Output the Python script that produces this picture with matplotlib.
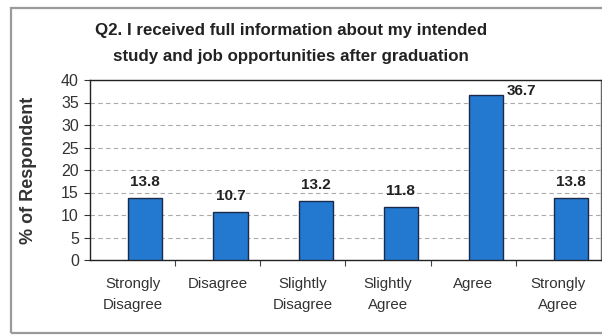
import matplotlib
matplotlib.use("Agg")
import matplotlib.pyplot as plt
from matplotlib.patches import Rectangle

categories = ["Strongly\nDisagree", "Disagree", "Slightly\nDisagree",
              "Slightly\nAgree", "Agree", "Strongly\nAgree"]
values = [13.8, 10.7, 13.2, 11.8, 36.7, 13.8]
yticks = [0, 5, 10, 15, 20, 25, 30, 35, 40]

plt.rcParams["font.family"] = ["Liberation Sans", "DejaVu Sans"]

fig = plt.figure(figsize=(6.02, 3.35), dpi=100)
ax = fig.add_axes([90 / 602, 1 - 260 / 335, 511 / 602, 180 / 335])

# outer chart frame
fig.patches.append(Rectangle((10.5 / 602, 2 / 335), 0.99, 1 - 10 / 335,
                             transform=fig.transFigure, fill=False,
                             edgecolor="#9a9a9a", linewidth=1.6))

# bars sit a little right of their category centre
bar_shift = 0.15
x = list(range(len(categories)))
bx = [i + bar_shift for i in x]
ax.bar(bx, values, width=0.40, color="#2379d0", edgecolor="#1b2a4a",
       linewidth=1.0, zorder=3)

for xi, v in zip(bx, values):
    if v == max(values):
        ax.text(xi + 0.245, v + 0.8, f"{v:.1f}", ha="left", va="center",
                fontsize=11, fontweight="bold", color="#222222")
    else:
        ax.text(xi, v + 1.9, f"{v:.1f}", ha="center", va="bottom",
                fontsize=11, fontweight="bold", color="#222222")

ax.set_xlim(-0.5, len(categories) - 0.5)
ax.set_ylim(0, 40)
ax.set_yticks(yticks)
ax.tick_params(axis="y", labelsize=11.5, length=4, width=0.8, pad=4,
               colors="#333333")
ax.set_xticks(x)
ax.set_xticklabels(categories, fontsize=10.8, linespacing=1.7,
                   color="#333333")
ax.tick_params(axis="x", length=0, pad=12)
ax.set_xticks([i + 0.5 for i in range(len(categories) - 1)], minor=True)
ax.tick_params(axis="x", which="minor", length=4, width=0.8, color="#444444")

ax.yaxis.grid(True, linestyle=(0, (4, 3)), color="#aaaaaa", linewidth=0.8,
              zorder=0)
for s in ax.spines.values():
    s.set_color("#222222")
    s.set_linewidth(1.0)
ax.spines["right"].set_color("#666666")

ax.set_ylabel("% of Respondent", fontsize=13, fontweight="bold",
              color="#333333", labelpad=17)

fig.text(291 / 602, 1 - 31 / 335,
         "Q2. I received full information about my intended",
         ha="center", va="center", fontsize=12.2, fontweight="bold",
         color="#222222")
fig.text(291 / 602, 1 - 57 / 335,
         "study and job opportunities after graduation",
         ha="center", va="center", fontsize=12.2, fontweight="bold",
         color="#222222")

fig.savefig("out.png", dpi=100)
